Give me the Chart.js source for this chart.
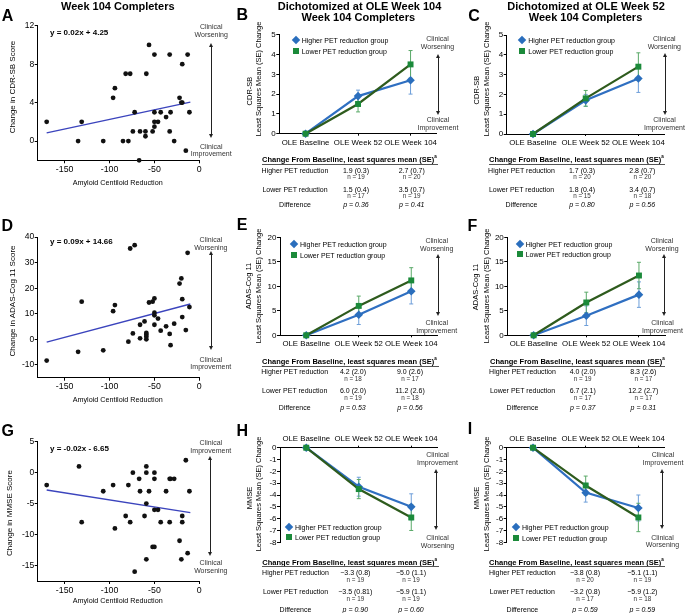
<!DOCTYPE html>
<html>
<head>
<meta charset="utf-8">
<script src="https://cdn.jsdelivr.net/npm/chart.js@4.4.0/dist/chart.umd.min.js"></script>
<style>
  body { margin: 0; background: #fff; }
  #fig { position: relative; width: 685px; height: 613px; overflow: hidden; font-family: "Liberation Sans", Arial, sans-serif; color: #000; }
  #fig canvas { position: absolute; }
  .t { position: absolute; white-space: nowrap; line-height: 1; }
</style>
</head>
<body>
<div id="fig"></div>
<script>
// scatter data (A, D, G) - amyloid centiloid reduction vs score change
const cdrX = [-170,-135,-131,-107,-96,-94,-82,-77,-85,-79,-74,-72,-67,-66,-60,-60,-59,-56,-52,-50,-50,-50,-50,-46,-43,-37,-33,-33,-32,-28,-22,-20,-19,-19,-15,-13,-11];
const cdrY = [2,0,2,0,4.5,5.5,7,7,0,0,1,3,-2,1,1,0.5,7,10,1,1.5,2,3,9,2,3,2.5,9,1,3,0,4.5,4,4,8,-1,9,3];
const adasX = [-170,-135,-131,-107,-96,-94,-79,-77,-74,-72,-66,-66,-61,-59,-59,-59,-59,-56,-52,-50,-50,-50,-50,-46,-43,-37,-33,-32,-28,-22,-20,-19,-19,-15,-13,-11];
const adasY = [-8.3,-4.9,14.7,-4.3,11,13.4,-0.9,35.5,2.3,36.8,0.4,5.7,7,2.5,1.8,1,0,14.4,14.7,16,10.4,9.4,5.7,8.1,3.4,5.1,2.1,-2.3,6.1,21.8,23.8,15.7,8.7,3.6,33.8,12.6];
const mmseX = [-170,-134,-131,-107,-96,-94,-82,-79,-77,-74,-72,-67,-66,-61,-59,-59,-59,-59,-56,-52,-50,-50,-50,-50,-46,-43,-37,-33,-33,-32,-28,-22,-20,-19,-19,-15,-13,-11];
const mmseY = [-2,1,-8,-3,-2,-9,-7,-2,-8,0,-16,-1,-3,-7,1,0,-5,-14,-3,-12,-12,0,-1,-6,-6,-8,-3,-8,-1,-1,-1,-11,-14,-7,-8,2,-13,-3];
const fitX = [-170, -10];
const cdrFit = [0.85, 4.05];
const adasFit = [-1.1, 13.8];
const mmseFit = [-2.8, -6.45];
const centiloidTicks = [-150, -100, -50, 0];
const cdrScatterTicks = [0, 4, 8, 12];
const adasScatterTicks = [-10, 0, 10, 20, 30, 40];
const mmseScatterTicks = [-15, -10, -5, 0, 5];

// line data (B, C, E, F, H, I) - LS mean change and SE
const visitLabels = ['OLE Baseline', 'OLE Week 52', 'OLE Week 104'];
const cdrHiB = [0, 1.9, 2.7], cdrHiSeB = [0, 0.3, 0.7];
const cdrLoB = [0, 1.5, 3.5], cdrLoSeB = [0, 0.4, 0.7];
const cdrHiC = [0, 1.7, 2.8], cdrHiSeC = [0, 0.3, 0.7];
const cdrLoC = [0, 1.8, 3.4], cdrLoSeC = [0, 0.4, 0.7];
const adasHiE = [0, 4.2, 9.0], adasHiSeE = [0, 2.0, 2.6];
const adasLoE = [0, 6.0, 11.2], adasLoSeE = [0, 2.0, 2.6];
const adasHiF = [0, 4.0, 8.3], adasHiSeF = [0, 2.0, 2.6];
const adasLoF = [0, 6.7, 12.2], adasLoSeF = [0, 2.1, 2.7];
const mmseHiH = [0, -3.3, -5.0], mmseHiSeH = [0, 0.8, 1.1];
const mmseLoH = [0, -3.5, -5.9], mmseLoSeH = [0, 0.81, 1.1];
const mmseHiI = [0, -3.8, -5.1], mmseHiSeI = [0, 0.8, 1.1];
const mmseLoI = [0, -3.2, -5.9], mmseLoSeI = [0, 0.8, 1.2];
const cdrTicks = [0, 1, 2, 3, 4, 5];
const adasTicks = [0, 5, 10, 15, 20];
const mmseTicks = [0, -1, -2, -3, -4, -5, -6, -7, -8];

// table texts
const tableB = [['1.9 (0.3)', 'n = 19', '2.7 (0.7)', 'n = 20'], ['1.5 (0.4)', 'n = 17', '3.5 (0.7)', 'n = 19'], ['0.36', '0.41']];
const tableC = [['1.7 (0.3)', 'n = 20', '2.8 (0.7)', 'n = 20'], ['1.8 (0.4)', 'n = 15', '3.4 (0.7)', 'n = 18'], ['0.80', '0.56']];
const tableE = [['4.2 (2.0)', 'n = 18', '9.0 (2.6)', 'n = 17'], ['6.0 (2.0)', 'n = 19', '11.2 (2.6)', 'n = 18'], ['0.53', '0.56']];
const tableF = [['4.0 (2.0)', 'n = 19', '8.3 (2.6)', 'n = 17'], ['6.7 (2.1)', 'n = 17', '12.2 (2.7)', 'n = 17'], ['0.37', '0.31']];
const tableH = [['\u22123.3 (0.8)', 'n = 19', '\u22125.0 (1.1)', 'n = 19'], ['\u22123.5 (0.81)', 'n = 19', '\u22125.9 (1.1)', 'n = 19'], ['0.90', '0.60']];
const tableI = [['\u22123.8 (0.8)', 'n = 20', '\u22125.1 (1.1)', 'n = 19'], ['\u22123.2 (0.8)', 'n = 17', '\u22125.9 (1.2)', 'n = 18'], ['0.59', '0.59']];

const family = '"Liberation Sans", Arial, sans-serif';
Chart.defaults.font.family = family;
Chart.defaults.color = '#000';

const blueMarker = '#2a6ebd', blueLine = '#2f6fc1', blueErr = '#6d9ed9';
const greenMarker = '#1b8a3a', greenLine = '#2e5b1d', greenErr = '#5aa968';

const fig = document.getElementById('fig');

// draws SE bars from dataset.errors using the y scale
const errorBars = {
  id: 'errorBars',
  beforeDatasetsDraw(chart) {
    const ctx = chart.ctx, ys = chart.scales.y;
    chart.data.datasets.forEach((ds, di) => {
      if (!ds.errors) return;
      const meta = chart.getDatasetMeta(di);
      meta.data.forEach((pt, i) => {
        const e = ds.errors[i];
        if (!e) return;
        const v = ds.data[i];
        const top = ys.getPixelForValue(v + e), bot = ys.getPixelForValue(v - e);
        ctx.save();
        ctx.strokeStyle = ds.errorColor;
        ctx.lineWidth = 1;
        ctx.beginPath();
        ctx.moveTo(pt.x, top); ctx.lineTo(pt.x, bot);
        ctx.moveTo(pt.x - 2, top); ctx.lineTo(pt.x + 2, top);
        ctx.moveTo(pt.x - 2, bot); ctx.lineTo(pt.x + 2, bot);
        ctx.stroke();
        ctx.restore();
      });
    });
  }
};

function makeCanvas(left, top, w, h) {
  const c = document.createElement('canvas');
  c.width = w; c.height = h;
  c.style.left = left + 'px'; c.style.top = top + 'px';
  c.style.width = w + 'px'; c.style.height = h + 'px';
  fig.appendChild(c);
  return c;
}

function axis(tickLen, size, pad, extra) {
  return Object.assign({
    grid: { display: true, drawOnChartArea: false, drawTicks: true, tickLength: tickLen, color: '#000', lineWidth: 1 },
    border: { display: true, color: '#000', width: 1 },
    ticks: { color: '#000', font: { size: size, family: family }, padding: pad, autoSkip: false, maxRotation: 0 }
  }, extra);
}

function scatterPanel(left, top, area, xs, ys, fit, yMin, yMax, yTicks) {
  const w = 230, h = 200, xH = 20;
  const c = makeCanvas(left, top, w, h);
  new Chart(c, {
    type: 'scatter',
    data: {
      datasets: [
        { type: 'line', data: fitX.map((x, i) => ({ x: x, y: fit[i] })), borderColor: '#3b44bd', borderWidth: 1.4, pointRadius: 0, order: 1 },
        { data: xs.map((x, i) => ({ x: x, y: ys[i] })), backgroundColor: '#111', borderColor: '#111', pointRadius: 2.4, borderWidth: 0, clip: false, order: 0 }
      ]
    },
    options: {
      responsive: false, animation: false, events: [],
      layout: { padding: { left: 0, top: area.t, right: w - area.r, bottom: h - area.b - xH } },
      plugins: { legend: { display: false }, tooltip: { enabled: false } },
      scales: {
        x: axis(3, 8.8, 1, {
          type: 'linear', min: -180, max: 0,
          afterBuildTicks: s => { s.ticks = centiloidTicks.map(v => ({ value: v })); },
          afterFit: s => { s.height = xH; }
        }),
        y: axis(3, 8.5, 0.5, {
          type: 'linear', min: yMin, max: yMax,
          afterBuildTicks: s => { s.ticks = yTicks.map(v => ({ value: v })); },
          afterFit: s => { s.width = area.l; }
        })
      }
    }
  });
}

function linePanel(left, top, w, area, xPos, yMin, yMax, yTicks, hi, hiSe, lo, loSe) {
  const h = 150, xH = 12;
  const c = makeCanvas(left, top, w, h);
  const pad = xPos === 'bottom'
    ? { left: 0, top: area.t, right: w - area.r, bottom: h - area.b - xH }
    : { left: 0, top: area.t - xH, right: w - area.r, bottom: h - area.b };
  new Chart(c, {
    type: 'line',
    data: {
      labels: visitLabels,
      datasets: [
        { data: hi, errors: hiSe, errorColor: blueErr, borderColor: blueLine, borderWidth: 2.2,
          pointStyle: 'rectRot', pointRadius: 4.3, pointBackgroundColor: blueMarker, pointBorderWidth: 0, clip: false, order: 1 },
        { data: lo, errors: loSe, errorColor: greenErr, borderColor: greenLine, borderWidth: 2.2,
          pointStyle: 'rect', pointRadius: 4.2, pointBackgroundColor: greenMarker, pointBorderWidth: 0, clip: false, order: 0 }
      ]
    },
    options: {
      responsive: false, animation: false, events: [],
      layout: { padding: pad },
      plugins: { legend: { display: false }, tooltip: { enabled: false } },
      scales: {
        x: axis(2, 7.8, 2, {
          type: 'category', position: xPos, offset: true,
          afterFit: s => { s.height = xH; }
        }),
        y: axis(3, 8, 0.5, {
          type: 'linear', min: yMin, max: yMax,
          afterBuildTicks: s => { s.ticks = yTicks.map(v => ({ value: v })); },
          afterFit: s => { s.width = area.l; }
        })
      }
    },
    plugins: [errorBars]
  });
}

// --- charts ---
scatterPanel(0, 0, { l: 37.7, t: 25.7, r: 199.3, b: 160.3 }, cdrX, cdrY, cdrFit, -2, 12, cdrScatterTicks);
scatterPanel(0, 205, { l: 37.7, t: 32, r: 199.3, b: 172.7 }, adasX, adasY, adasFit, -15, 40, adasScatterTicks);
scatterPanel(0, 410, { l: 37.7, t: 31.7, r: 199.3, b: 171 }, mmseX, mmseY, mmseFit, -17.5, 5, mmseScatterTicks);

linePanel(230, 0, 230, { l: 49.3, t: 34.7, r: 206.8, b: 133.7 }, 'bottom', 0, 5, cdrTicks, cdrHiB, cdrHiSeB, cdrLoB, cdrLoSeB);
linePanel(460, 0, 225, { l: 46.7, t: 35, r: 204.7, b: 134 }, 'bottom', 0, 5, cdrTicks, cdrHiC, cdrHiSeC, cdrLoC, cdrLoSeC);
linePanel(230, 205, 230, { l: 50, t: 32.3, r: 207.5, b: 130.3 }, 'bottom', 0, 20, adasTicks, adasHiE, adasHiSeE, adasLoE, adasLoSeE);
linePanel(460, 205, 225, { l: 47.3, t: 32.3, r: 205.3, b: 130.3 }, 'bottom', 0, 20, adasTicks, adasHiF, adasHiSeF, adasLoF, adasLoSeF);
linePanel(230, 410, 230, { l: 50, t: 37.7, r: 207.5, b: 132.3 }, 'top', -8, 0, mmseTicks, mmseHiH, mmseHiSeH, mmseLoH, mmseLoSeH);
linePanel(460, 410, 225, { l: 46.7, t: 37.7, r: 204.7, b: 132.3 }, 'top', -8, 0, mmseTicks, mmseHiI, mmseHiSeI, mmseLoI, mmseLoSeI);

// --- text helpers ---
function txt(str, x, y, o) {
  o = o || {};
  const d = document.createElement('div');
  d.className = 't';
  d.innerHTML = str;
  d.style.left = x + 'px';
  d.style.top = y + 'px';
  d.style.fontSize = (o.size || 7) + 'px';
  if (o.bold) d.style.fontWeight = 'bold';
  if (o.italic) d.style.fontStyle = 'italic';
  if (o.color) d.style.color = o.color;
  const ax = o.align === 'left' ? '0' : '-50%';
  d.style.transform = 'translate(' + ax + ',-50%)' + (o.rot ? ' rotate(-90deg)' : '');
  fig.appendChild(d);
  return d;
}

function box(x, y, w, h, css) {
  const d = document.createElement('div');
  d.style.cssText = 'position:absolute;left:' + x + 'px;top:' + y + 'px;width:' + w + 'px;height:' + h + 'px;' + (css || '');
  fig.appendChild(d);
  return d;
}

function arrow(x, y1, y2) {
  box(x - 0.5, y1 + 3, 1, y2 - y1 - 6, 'background:#222');
  box(x - 2.5, y1, 0, 0, 'border-left:2.5px solid transparent;border-right:2.5px solid transparent;border-bottom:4px solid #222');
  box(x - 2.5, y2 - 4, 0, 0, 'border-left:2.5px solid transparent;border-right:2.5px solid transparent;border-top:4px solid #222');
}

function clinical(x, yTop, arrowX, a1, a2, yBot, topWord, botWord, xb) {
  const gray = '#333';
  txt('Clinical', x, yTop, { color: gray });
  txt(topWord, x, yTop + 7.8, { color: gray });
  arrow(arrowX, a1, a2);
  txt('Clinical', xb, yBot, { color: gray });
  txt(botWord, xb, yBot + 7.6, { color: gray });
}

function legend(x, y1, y2, tx) {
  box(x - 3, y1 - 3, 6, 6, 'background:' + blueMarker + ';transform:rotate(45deg)');
  txt('Higher PET reduction group', tx, y1, { align: 'left' });
  box(x - 3, y2 - 3, 6, 6, 'background:' + greenMarker);
  txt('Lower PET reduction group', tx, y2, { align: 'left' });
}

function table(cols, rows, t) {
  txt('Change From Baseline, least squares mean (SE)<sup style="font-size:4.5px">a</sup>', cols.l, rows.head, { size: 7.5, bold: true, align: 'left' });
  box(cols.l, rows.line, cols.r - cols.l, 1, 'background:#555');
  const n = { size: 6.3, color: '#333' };
  txt('Higher PET reduction', cols.lab, rows.hi);
  txt(t[0][0], cols.v1, rows.hi);
  txt(t[0][1], cols.v1, rows.hin, n);
  txt(t[0][2], cols.v2, rows.hi);
  txt(t[0][3], cols.v2, rows.hin, n);
  txt('Lower PET reduction', cols.lab, rows.lo);
  txt(t[1][0], cols.v1, rows.lo);
  txt(t[1][1], cols.v1, rows.lon, n);
  txt(t[1][2], cols.v2, rows.lo);
  txt(t[1][3], cols.v2, rows.lon, n);
  txt('Difference', cols.lab, rows.diff);
  txt('p = ' + t[2][0], cols.v1, rows.diff, { italic: true });
  txt('p = ' + t[2][1], cols.v2, rows.diff, { italic: true });
}

// panel letters
[['A', 7.5, 15.5], ['B', 242.3, 15], ['C', 474, 16.2], ['D', 7.3, 225.5], ['E', 242, 225], ['F', 472.5, 225.5],
 ['G', 7.8, 430.8], ['H', 242.3, 430.8], ['I', 470, 429]].forEach(p => txt(p[0], p[1], p[2], { size: 16, bold: true }));

// titles
txt('Week 104 Completers', 117.8, 5.5, { size: 11, bold: true });
txt('Dichotomized at OLE Week 104', 359.5, 5.5, { size: 11, bold: true });
txt('Week 104 Completers', 358.3, 17.2, { size: 11, bold: true });
txt('Dichotomized at OLE Week 52', 586, 5.5, { size: 11, bold: true });
txt('Week 104 Completers', 585.5, 17.2, { size: 11, bold: true });

// scatter annotations
txt('y = 0.02x + 4.25', 50, 33.3, { size: 8, bold: true, align: 'left' });
txt('y = 0.09x + 14.66', 50, 241.7, { size: 8, bold: true, align: 'left' });
txt('y = -0.02x - 6.65', 50, 449, { size: 8, bold: true, align: 'left' });
txt('Change in CDR-SB Score', 13.3, 86.7, { size: 8, rot: true });
txt('Change in ADAS-Cog 11 Score', 13.3, 300.8, { size: 8, rot: true });
txt('Change in MMSE Score', 10, 512.5, { size: 8, rot: true });
txt('Amyloid Centiloid Reduction', 117.7, 183.3, { size: 7.2 });
txt('Amyloid Centiloid Reduction', 117.7, 400, { size: 7.2 });
txt('Amyloid Centiloid Reduction', 117.7, 600.7, { size: 7.2 });

// line chart axis titles
txt('CDR-SB', 250, 91, { size: 7.5, rot: true });
txt('Least Squares Mean (SE) Change', 259.3, 79, { size: 7.5, rot: true });
txt('CDR-SB', 476.7, 90, { size: 7.5, rot: true });
txt('Least Squares Mean (SE) Change', 486.7, 79, { size: 7.5, rot: true });
txt('ADAS-Cog 11', 249.3, 285.8, { size: 7.5, rot: true });
txt('Least Squares Mean (SE) Change', 259.3, 285.8, { size: 7.5, rot: true });
txt('ADAS-Cog 11', 476, 286.7, { size: 7.5, rot: true });
txt('Least Squares Mean (SE) Change', 486.7, 285.8, { size: 7.5, rot: true });
txt('MMSE', 250, 498.3, { size: 7.5, rot: true });
txt('Least Squares Mean (SE) Change', 259.3, 494, { size: 7.5, rot: true });
txt('MMSE', 477.3, 498.3, { size: 7.5, rot: true });
txt('Least Squares Mean (SE) Change', 487.3, 494, { size: 7.5, rot: true });

// clinical direction arrows
clinical(211.2, 26, 211, 42.7, 138.3, 145.7, 'Worsening', 'Improvement', 211.2);
clinical(437.5, 37.7, 438, 54, 115, 119.3, 'Worsening', 'Improvement', 438);
clinical(664.3, 37.7, 665.3, 53.3, 115, 119.3, 'Worsening', 'Improvement', 664.5);
clinical(210.8, 238.7, 211, 250.7, 350, 358.7, 'Worsening', 'Improvement', 210.8);
clinical(436.7, 240.3, 438, 253.7, 316.3, 322, 'Worsening', 'Improvement', 436.7);
clinical(662, 240.3, 664.7, 253.7, 316, 322, 'Worsening', 'Improvement', 662.5);
clinical(210.8, 442.3, 210.7, 455.7, 555.7, 562.3, 'Improvement', 'Worsening', 210.8);
clinical(437.5, 454.3, 436.7, 469.3, 530, 537, 'Improvement', 'Worsening', 437.5);
clinical(663, 454.3, 662, 469.3, 529.3, 536.7, 'Improvement', 'Worsening', 662.5);

// legends
legend(295.7, 40, 50.7, 301.7);
legend(522, 40, 50.7, 528.3);
legend(294.3, 244.3, 254.7, 300);
legend(520.3, 244, 254.3, 525.7);
legend(289.3, 527.3, 537.3, 295);
legend(516, 527.3, 537.7, 522);

// tables
const row1 = { head: 159.3, line: 163.7, hi: 169.5, hin: 176.7, lo: 188.7, lon: 195.7, diff: 203.5 };
const row2 = { head: 360.8, line: 366.3, hi: 371, hin: 378.7, lo: 390, lon: 397.7, diff: 406.7 };
const row3 = { head: 561.7, line: 565.7, hi: 572.3, hin: 580, lo: 591, lon: 598.7, diff: 608.7 };
table({ l: 262, r: 438, lab: 295, v1: 356, v2: 411.7 }, row1, tableB);
table({ l: 489, r: 665, lab: 521.5, v1: 582, v2: 642.3 }, row1, tableC);
table({ l: 262, r: 439, lab: 294.7, v1: 353, v2: 410 }, row2, tableE);
table({ l: 490, r: 665, lab: 522.5, v1: 582.7, v2: 643.3 }, row2, tableF);
table({ l: 262.3, r: 438.7, lab: 295.5, v1: 355.3, v2: 411 }, row3, tableH);
table({ l: 489, r: 665, lab: 522.3, v1: 585, v2: 642.3 }, row3, tableI);
</script>
</body>
</html>
